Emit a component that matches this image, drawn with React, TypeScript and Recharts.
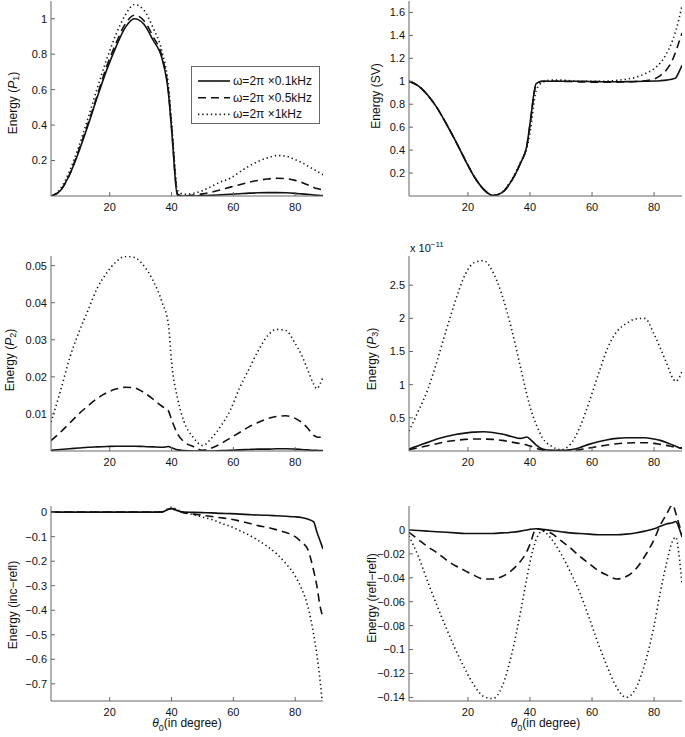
import React from 'react';
import { LineChart, Line, XAxis, YAxis, Legend } from 'recharts';

// incidence angle θ0 (degrees)
const angles = [1, 4, 7, 10, 13, 16, 19, 22, 25, 28, 31, 34, 37, 39, 40, 42, 44, 47, 50, 53, 56, 59, 62, 65, 68, 71, 74, 77, 80, 82, 84, 86, 87, 88, 89];
const xTicks = [20, 40, 60, 80];
const seriesNames = ['ω=2π ×0.1kHz', 'ω=2π ×0.5kHz', 'ω=2π ×1kHz'];

// Energy (P1)
const p1Solid = [0, 0.03, 0.12, 0.25, 0.40, 0.56, 0.71, 0.84, 0.95, 1.00, 0.97, 0.88, 0.77, 0.58, 0.38, 0.0, 0.0, 0.0, 0.002, 0.004, 0.007, 0.01, 0.013, 0.016, 0.018, 0.019, 0.019, 0.018, 0.015, 0.012, 0.009, 0.006, 0.004, 0.003, 0.002];
const p1Dashed = [0, 0.03, 0.12, 0.26, 0.41, 0.57, 0.73, 0.86, 0.97, 1.02, 0.99, 0.90, 0.78, 0.59, 0.39, 0.01, 0.0, 0.005, 0.012, 0.022, 0.035, 0.05, 0.064, 0.077, 0.088, 0.096, 0.1, 0.098, 0.088, 0.078, 0.063, 0.048, 0.042, 0.038, 0.035];
const p1Dotted = [0, 0.04, 0.14, 0.28, 0.44, 0.61, 0.77, 0.91, 1.02, 1.08, 1.05, 0.95, 0.81, 0.62, 0.42, 0.03, 0.01, 0.015, 0.03, 0.055, 0.08, 0.1, 0.135, 0.168, 0.195, 0.215, 0.228, 0.225, 0.205, 0.19, 0.17, 0.15, 0.14, 0.13, 0.12];
const p1Ticks = [0.2, 0.4, 0.6, 0.8, 1];

// Energy (SV)
const svSolid = [1.0, 0.96, 0.88, 0.77, 0.63, 0.48, 0.32, 0.17, 0.06, 0.005, 0.03, 0.13, 0.29, 0.44, 0.63, 0.98, 1.0, 1.0, 1.0, 1.0, 1.0, 0.998, 0.997, 0.996, 0.996, 0.997, 0.998, 1.0, 1.002, 1.005, 1.01, 1.02, 1.03, 1.08, 1.14];
const svDashed = [1.0, 0.96, 0.88, 0.77, 0.63, 0.48, 0.32, 0.17, 0.06, 0.005, 0.03, 0.13, 0.29, 0.44, 0.62, 0.97, 1.0, 1.0, 1.0, 0.998, 0.995, 0.993, 0.992, 0.992, 0.993, 0.995, 0.998, 1.005, 1.02, 1.05, 1.1, 1.19, 1.26, 1.34, 1.42];
const svDotted = [1.0, 0.96, 0.88, 0.77, 0.63, 0.48, 0.32, 0.17, 0.06, 0.005, 0.035, 0.14, 0.3, 0.42, 0.55, 0.92, 0.99, 1.01, 1.01, 1.005, 1.0, 1.0, 1.0, 1.002, 1.008, 1.018, 1.035, 1.065, 1.11, 1.16, 1.24, 1.36, 1.44, 1.54, 1.66];
const svTicks = [0.2, 0.4, 0.6, 0.8, 1, 1.2, 1.4, 1.6];

// Energy (P2)
const p2Solid = [0.0002, 0.0004, 0.0006, 0.0008, 0.001, 0.0011, 0.0012, 0.0013, 0.0013, 0.0013, 0.0012, 0.0011, 0.001, 0.0012, 0.0009, 0.0003, 0.0001, 0, 0, 0, 0.0001, 0.0002, 0.0003, 0.0004, 0.0005, 0.0005, 0.0006, 0.0006, 0.0005, 0.0004, 0.0003, 0.0002, 0.0002, 0.0001, 0.0001];
const p2Dashed = [0.0028, 0.005, 0.0075, 0.01, 0.0122, 0.0142, 0.0157, 0.0167, 0.0172, 0.017, 0.0158, 0.014, 0.012, 0.0108, 0.0085, 0.0045, 0.0025, 0.0012, 0.0002, 0.0008, 0.002, 0.0035, 0.005, 0.0065, 0.0077, 0.0087, 0.0093, 0.0095, 0.0088, 0.0078, 0.0062, 0.0042, 0.0038, 0.0037, 0.0037];
const p2Dotted = [0.0078, 0.016, 0.025, 0.032, 0.038, 0.044, 0.048, 0.051, 0.0525, 0.0522, 0.05, 0.046, 0.04, 0.034, 0.024, 0.014, 0.008, 0.0037, 0.0015, 0.0035, 0.0068, 0.011, 0.017, 0.022, 0.027, 0.031, 0.0328, 0.0325, 0.029, 0.026, 0.022, 0.018, 0.0168, 0.018, 0.02];
const p2Ticks = [0.01, 0.02, 0.03, 0.04, 0.05];

// Energy (P3), in units of 1e-11
const p3Solid = [0.03, 0.08, 0.13, 0.18, 0.22, 0.25, 0.27, 0.285, 0.29, 0.28, 0.255, 0.22, 0.19, 0.21, 0.18, 0.09, 0.03, 0.01, 0.01, 0.02, 0.05, 0.1, 0.14, 0.17, 0.19, 0.2, 0.2, 0.2, 0.18, 0.16, 0.13, 0.09, 0.07, 0.05, 0.04];
const p3Dashed = [0.02, 0.05, 0.08, 0.11, 0.14, 0.16, 0.175, 0.18, 0.18, 0.175, 0.16, 0.135, 0.11, 0.09, 0.075, 0.04, 0.015, 0.005, 0, 0.005, 0.02, 0.045, 0.07, 0.09, 0.11, 0.12, 0.125, 0.125, 0.115, 0.1, 0.085, 0.065, 0.055, 0.05, 0.045];
const p3Dotted = [0.3, 0.6, 0.92, 1.35, 1.82, 2.27, 2.65, 2.84, 2.87, 2.7, 2.35, 1.85, 1.25, 0.85, 0.67, 0.4, 0.2, 0.07, 0.02, 0.1, 0.35, 0.73, 1.15, 1.55, 1.8, 1.92, 1.99, 2.0, 1.76, 1.55, 1.33, 1.1, 1.05, 1.1, 1.2];
const p3Ticks = [0.5, 1, 1.5, 2, 2.5];

// Energy (inc-refl)
const irSolid = [0, 0, 0, 0, 0, 0, 0, 0, 0, 0, 0, 0, 0.001, 0.012, 0.015, 0.006, 0, -0.001, -0.002, -0.003, -0.005, -0.006, -0.008, -0.01, -0.012, -0.013, -0.015, -0.017, -0.019, -0.022, -0.028, -0.04, -0.08, -0.115, -0.15];
const irDashed = [0, 0, 0, 0, 0, 0, 0, 0, 0, 0, 0, 0, 0.001, 0.012, 0.014, 0.004, -0.003, -0.008, -0.013, -0.018, -0.023, -0.028, -0.036, -0.045, -0.055, -0.062, -0.072, -0.083, -0.1, -0.122, -0.15, -0.24, -0.3, -0.38, -0.43];
const irDotted = [0, 0, 0, 0, 0, 0, 0, 0, 0, 0, 0, 0, 0.001, 0.015, 0.02, 0.008, 0, -0.01, -0.02, -0.03, -0.045, -0.058, -0.075, -0.093, -0.115, -0.14, -0.17, -0.21, -0.26, -0.31, -0.38, -0.5, -0.58, -0.68, -0.8];
const irTicks = [0, -0.1, -0.2, -0.3, -0.4, -0.5, -0.6, -0.7];

// Energy (refl-refl)
const rrSolid = [0, -0.0005, -0.001, -0.0015, -0.002, -0.0025, -0.003, -0.003, -0.003, -0.003, -0.0025, -0.002, -0.001, 0, 0.0005, 0.001, 0.0005, -0.0005, -0.0015, -0.0025, -0.003, -0.0035, -0.004, -0.004, -0.004, -0.0035, -0.0025, -0.001, 0.001, 0.003, 0.005, 0.006, 0.007, 0.002, -0.006];
const rrDashed = [-0.002, -0.008, -0.014, -0.019, -0.025, -0.03, -0.034, -0.038, -0.041, -0.041, -0.039, -0.034, -0.026, -0.018, -0.012, 0.001, 0, -0.003, -0.009, -0.015, -0.022, -0.028, -0.034, -0.038, -0.041, -0.039, -0.033, -0.022, -0.008, 0.004, 0.013, 0.021, 0.014, 0.005, -0.003];
const rrDotted = [-0.005, -0.022, -0.043, -0.063, -0.082, -0.1, -0.116, -0.13, -0.139, -0.141, -0.131, -0.105, -0.068, -0.04, -0.027, -0.008, -0.001, -0.008, -0.02, -0.035, -0.052, -0.073, -0.095, -0.115, -0.132, -0.14, -0.133, -0.112, -0.08, -0.052, -0.028, -0.009, -0.006, -0.02, -0.045];
const rrTicks = [0, -0.02, -0.04, -0.06, -0.08, -0.1, -0.12, -0.14];

const ML = 50;
const MT = 20;
const MR = 4;
const BH = 38;
const FRAME = '#666';
const INK = '#111';
const FONT = '"Liberation Sans", Arial, Helvetica, sans-serif';
const STYLES = [
  { dash: undefined as string | undefined },
  { dash: '8 5' },
  { dash: '1.3 3' },
];

const fmt = (v: number) => String(v).replace('-', '−');

type Frame = { l: number; t: number; r: number; b: number };

type PanelProps = {
  frame: Frame;
  series: number[][];
  yDomain: [number, number];
  yTicks: number[];
  yLabel: React.ReactNode;
  yLabelOffset: number;
  yLabelCenter: number;
  xLabel?: boolean;
  exponent?: boolean;
  legend?: boolean;
};

function Panel(props: PanelProps) {
  const { frame, series, yDomain, yTicks, yLabel, yLabelOffset, yLabelCenter, xLabel, exponent, legend } = props;
  const w = frame.r - frame.l;
  const h = frame.b - frame.t;
  const data = angles.map((a, i) => ({ a, s0: series[0][i], s1: series[1][i], s2: series[2][i] }));
  const top = frame.t - MT;
  const left = frame.l - ML;

  const yLab = () => (
    <g>
      <text
        transform={`translate(${ML - yLabelOffset}, ${yLabelCenter - top}) rotate(-90)`}
        textAnchor="middle"
        dominantBaseline="central"
        fontSize={12}
        fill={INK}
      >
        {yLabel}
      </text>
      {exponent && (
        <text x={ML + 1} y={MT - 4.5} fontSize={11} fill={INK}>
          x 10<tspan fontSize={8} dy={-5}>−11</tspan>
        </text>
      )}
    </g>
  );

  const xLab = () => (
    <text x={ML + w / 2} y={MT + h + 26} textAnchor="middle" fontSize={12} fill={INK}>
      <tspan fontStyle="italic">θ</tspan>
      <tspan fontSize={9} dy={4}>0</tspan>
      <tspan dy={-4}>(in degree)</tspan>
    </text>
  );

  const legendContent = (lp: any) => {
    const payload = lp.payload || [];
    return (
      <svg width={129} height={58} style={{ display: 'block' }}>
        <rect x={0.5} y={0.5} width={128} height={57} fill="#fff" stroke={FRAME} strokeWidth={1} />
        {payload.map((entry: any, i: number) => {
          const y = 15 + i * 16.7;
          const dash = entry.payload && entry.payload.strokeDasharray;
          return (
            <g key={i}>
              <line x1={7} x2={39} y1={y} y2={y} stroke={INK} strokeWidth={1.6} strokeDasharray={dash} />
              <text x={42} y={y} dominantBaseline="central" fontSize={12} fill={INK}>
                {entry.value}
              </text>
            </g>
          );
        })}
      </svg>
    );
  };

  return (
    <div style={{ position: 'absolute', left, top }}>
      <LineChart
        width={w + ML + MR}
        height={h + MT + BH}
        data={data}
        margin={{ top: MT, right: MR, bottom: 0, left: 0 }}
      >
        <XAxis
          xAxisId="b"
          dataKey="a"
          type="number"
          domain={[1, 89]}
          ticks={xTicks}
          allowDataOverflow
          interval={0}
          height={BH}
          tickSize={-4}
          tickMargin={11}
          stroke={FRAME}
          tick={{ fill: INK, fontSize: 11 }}
          label={xLabel ? xLab : undefined}
        />
        <XAxis
          xAxisId="t"
          orientation="top"
          dataKey="a"
          type="number"
          domain={[1, 89]}
          ticks={xTicks}
          allowDataOverflow
          interval={0}
          height={0}
          tickSize={-4}
          tick={false}
          stroke={FRAME}
        />
        <YAxis
          yAxisId="l"
          type="number"
          domain={yDomain}
          ticks={yTicks}
          allowDataOverflow
          interval={0}
          width={ML}
          tickSize={-4}
          tickMargin={8}
          stroke={FRAME}
          tick={{ fill: INK, fontSize: 11 }}
          tickFormatter={fmt}
          label={yLab}
        />
        <YAxis
          yAxisId="r"
          orientation="right"
          type="number"
          domain={yDomain}
          ticks={yTicks}
          allowDataOverflow
          interval={0}
          width={0}
          tickSize={-4}
          tick={false}
          stroke={FRAME}
        />
        {STYLES.map((st, i) => (
          <Line
            key={i}
            xAxisId="b"
            yAxisId="l"
            type="monotone"
            dataKey={`s${i}`}
            name={seriesNames[i]}
            stroke={INK}
            strokeWidth={1.6}
            strokeDasharray={st.dash}
            dot={false}
            activeDot={false}
            isAnimationActive={false}
          />
        ))}
        {legend && (
          <Legend
            layout="horizontal"
            align="center"
            verticalAlign="middle"
            content={legendContent}
            wrapperStyle={{ left: 190, top: 66 - top, width: 129, height: 58 }}
          />
        )}
      </LineChart>
    </div>
  );
}

const P = (n: string) => (
  <>
    Energy (<tspan fontStyle="italic">P</tspan>
    <tspan fontSize={9} dy={3}>{n}</tspan>
    <tspan dy={-3}>)</tspan>
  </>
);

export default function App() {
  return (
    <div
      style={{
        position: 'absolute',
        left: 0,
        top: 0,
        width: 685,
        height: 737,
        background: '#fff',
        fontFamily: FONT,
        overflow: 'hidden',
      }}
    >
      <Panel
        frame={{ l: 51, t: 1, r: 323, b: 196 }}
        series={[p1Solid, p1Dashed, p1Dotted]}
        yDomain={[0, 1.1]}
        yTicks={p1Ticks}
        yLabel={P('1')}
        yLabelOffset={38}
        yLabelCenter={103}
        legend
      />
      <Panel
        frame={{ l: 409, t: 1, r: 682, b: 196 }}
        series={[svSolid, svDashed, svDotted]}
        yDomain={[0, 1.7]}
        yTicks={svTicks}
        yLabel="Energy (SV)"
        yLabelOffset={33}
        yLabelCenter={96}
      />
      <Panel
        frame={{ l: 51, t: 256, r: 323, b: 451 }}
        series={[p2Solid, p2Dashed, p2Dotted]}
        yDomain={[0, 0.0526]}
        yTicks={p2Ticks}
        yLabel={P('2')}
        yLabelOffset={41}
        yLabelCenter={360}
      />
      <Panel
        frame={{ l: 409, t: 256, r: 682, b: 451 }}
        series={[p3Solid, p3Dashed, p3Dotted]}
        yDomain={[0, 2.94]}
        yTicks={p3Ticks}
        yLabel={P('3')}
        yLabelOffset={37}
        yLabelCenter={359}
        exponent
      />
      <Panel
        frame={{ l: 51, t: 506, r: 323, b: 701 }}
        series={[irSolid, irDashed, irDotted]}
        yDomain={[-0.77, 0.025]}
        yTicks={irTicks}
        yLabel="Energy (inc−refl)"
        yLabelOffset={38}
        yLabelCenter={605}
        xLabel
      />
      <Panel
        frame={{ l: 409, t: 506, r: 682, b: 701 }}
        series={[rrSolid, rrDashed, rrDotted]}
        yDomain={[-0.143, 0.02]}
        yTicks={rrTicks}
        yLabel="Energy (refl−refl)"
        yLabelOffset={37}
        yLabelCenter={598}
        xLabel
      />
    </div>
  );
}
